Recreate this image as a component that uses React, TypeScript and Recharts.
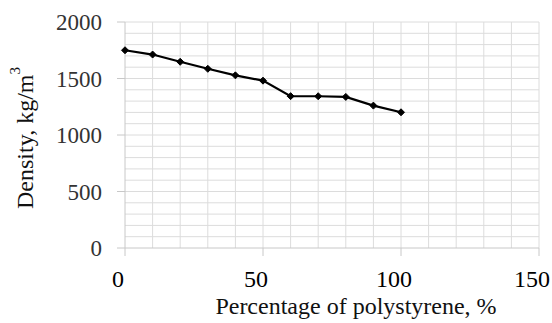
import React from "react";
import { LineChart, Line, XAxis, YAxis, ReferenceLine } from "recharts";

const percentages = [0, 10, 20, 30, 40, 50, 60, 70, 80, 90, 100];
const densities = [1750, 1712, 1648, 1586, 1528, 1481, 1344, 1343, 1337, 1260, 1201];
const xTicks = [0, 50, 100, 150];
const yTicks = [0, 500, 1000, 1500, 2000];
const xGrid = [10, 20, 30, 40, 50, 60, 70, 80, 90, 100, 110, 120, 130, 140, 150];
const yGrid = [100, 200, 300, 400, 500, 600, 700, 800, 900, 1000, 1100, 1200, 1300, 1400, 1500, 1600, 1700, 1800, 1900, 2000];

const data = percentages.map((p, i) => ({ p, d: densities[i] }));

const FONT = "'Liberation Serif', 'Times New Roman', serif";

const Diamond = (props: any) => {
  const { cx, cy } = props;
  if (cx == null || cy == null) return null;
  const r = 3.5;
  return (
    <path
      d={`M${cx},${cy - r}L${cx + r},${cy}L${cx},${cy + r}L${cx - r},${cy}Z`}
      fill="#000"
      stroke="#000"
    />
  );
};

const XTick = (props: any) => {
  const { x, y, payload } = props;
  return (
    <text
      x={x - 7}
      y={y}
      dy="0.71em"
      textAnchor="middle"
      fontFamily={FONT}
      style={{ fontFamily: FONT }}
      fontSize={24}
      fill="#000"
    >
      {payload.value}
    </text>
  );
};

const YTick = (props: any) => {
  const { x, y, payload } = props;
  return (
    <text
      x={x}
      y={y}
      dy="0.355em"
      textAnchor="end"
      fontFamily={FONT}
      style={{ fontFamily: FONT }}
      fontSize={23}
      fill="#333"
    >
      {payload.value}
    </text>
  );
};

const XTitle = () => (
  <text x={356} y={314} textAnchor="middle" fontFamily={FONT} style={{ fontFamily: FONT }} fontSize={24} fill="#111">
    Percentage of polystyrene, %
  </text>
);

const YTitle = () => {
  const cx = 25;
  const cy = 138;
  return (
    <text
      x={cx}
      y={cy}
      textAnchor="middle"
      dominantBaseline="central"
      transform={`rotate(-90, ${cx}, ${cy})`}
      fontFamily={FONT}
      style={{ fontFamily: FONT }}
      fontSize={24}
      fill="#111"
    >
      <tspan>Density, kg/m</tspan>
      <tspan fontSize={15} dy={-10}>3</tspan>
    </text>
  );
};

export default function App() {
  return (
    <div
      style={{
        position: "absolute",
        left: 0,
        top: 0,
        width: 552,
        height: 323,
        background: "#fff",
        fontFamily: FONT,
      }}
    >
      <LineChart
        width={552}
        height={323}
        data={data}
        margin={{ top: 22, right: 13, bottom: 0, left: 0 }}
      >
        <XAxis
          dataKey="p"
          type="number"
          domain={[0, 150]}
          ticks={xTicks}
          height={75}
          tickSize={8}
          tickMargin={14}
          axisLine={{ stroke: "#c8c8c8" }}
          tickLine={{ stroke: "#c8c8c8" }}
          tick={<XTick />}
          label={<XTitle />}
        />
        <YAxis
          type="number"
          domain={[0, 2000]}
          ticks={yTicks}
          width={125}
          tickSize={8}
          tickMargin={15}
          axisLine={{ stroke: "#c8c8c8" }}
          tickLine={{ stroke: "#c8c8c8" }}
          tick={<YTick />}
          label={<YTitle />}
        />
        {yGrid.map((v) => (
          <ReferenceLine key={"y" + v} y={v} stroke="#dcdcdc" strokeWidth={1} />
        ))}
        {xGrid.map((v) => (
          <ReferenceLine key={"x" + v} x={v} stroke="#dcdcdc" strokeWidth={1} />
        ))}
        <Line
          dataKey="d"
          stroke="#000"
          strokeWidth={2.2}
          dot={<Diamond />}
          isAnimationActive={false}
        />
      </LineChart>
    </div>
  );
}
